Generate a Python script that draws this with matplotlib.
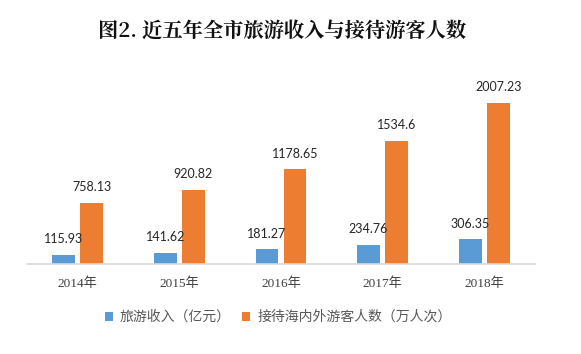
import matplotlib
matplotlib.use("Agg")
import matplotlib.pyplot as plt
import numpy as np

categories = ["2014年", "2015年", "2016年", "2017年", "2018年"]
revenue = [115.93, 141.62, 181.27, 234.76, 306.35]
visitors = [758.13, 920.82, 1178.65, 1534.6, 2007.23]
revenue_labels = ["115.93", "141.62", "181.27", "234.76", "306.35"]
visitor_labels = ["758.13", "920.82", "1178.65", "1534.6", "2007.23"]
series_names = ["旅游收入（亿元）", "接待海内外游客人数（万人次）"]
title = "图2. 近五年全市旅游收入与接待游客人数"

BLUE = "#5B9BD5"
ORANGE = "#ED7D31"
CJK = ["Noto Sans CJK SC", "DejaVu Sans"]
SERIF_CJK = ["Liberation Serif", "Noto Sans CJK SC"]

fig = plt.figure(figsize=(5.81, 3.54), dpi=100)
ax = fig.add_axes([27/581, 1 - 264/354, (535-27)/581, 201/354])

x = np.arange(len(categories))
w = 0.225
off = 0.138
b1 = ax.bar(x - off, revenue, w, color=BLUE, label=series_names[0])
b2 = ax.bar(x + off, visitors, w, color=ORANGE, label=series_names[1])

for rects, labs in ((b1, revenue_labels), (b2, visitor_labels)):
    for r, t in zip(rects, labs):
        ax.annotate(t, (r.get_x() + r.get_width()/2, r.get_height()),
                    xytext=(0, 7), textcoords="offset points",
                    ha="center", va="bottom", fontsize=9, family="Lato", color="#262626")

ax.set_xlim(-0.5, len(categories) - 0.5)
ax.set_ylim(0, 2500)
ax.set_yticks([])
ax.set_xticks(x)
ax.set_xticklabels(categories, family=SERIF_CJK, fontsize=9.5, color="#404040")
ax.tick_params(axis="x", length=0, pad=10)
for s in ["top", "right", "left"]:
    ax.spines[s].set_visible(False)
ax.spines["bottom"].set_color("#D9D9D9")
ax.spines["bottom"].set_linewidth(1.2)

fig.text(282/581, 1 - 31/354, title, ha="center", va="center",
         fontsize=14.6, fontweight="bold", family=["Noto Serif CJK SC", "Noto Sans CJK SC", "DejaVu Sans"], color="#111111")

leg = fig.legend(handles=[b1, b2], labels=series_names, loc="center",
                 bbox_to_anchor=(278/581, 1 - 317/354), ncol=2, frameon=False,
                 prop={"family": CJK, "size": 10}, handlelength=0.6, handleheight=0.6,
                 handletextpad=0.5, columnspacing=0.8)
for t in leg.get_texts():
    t.set_color("#595959")

fig.savefig("out.png", dpi=100)
